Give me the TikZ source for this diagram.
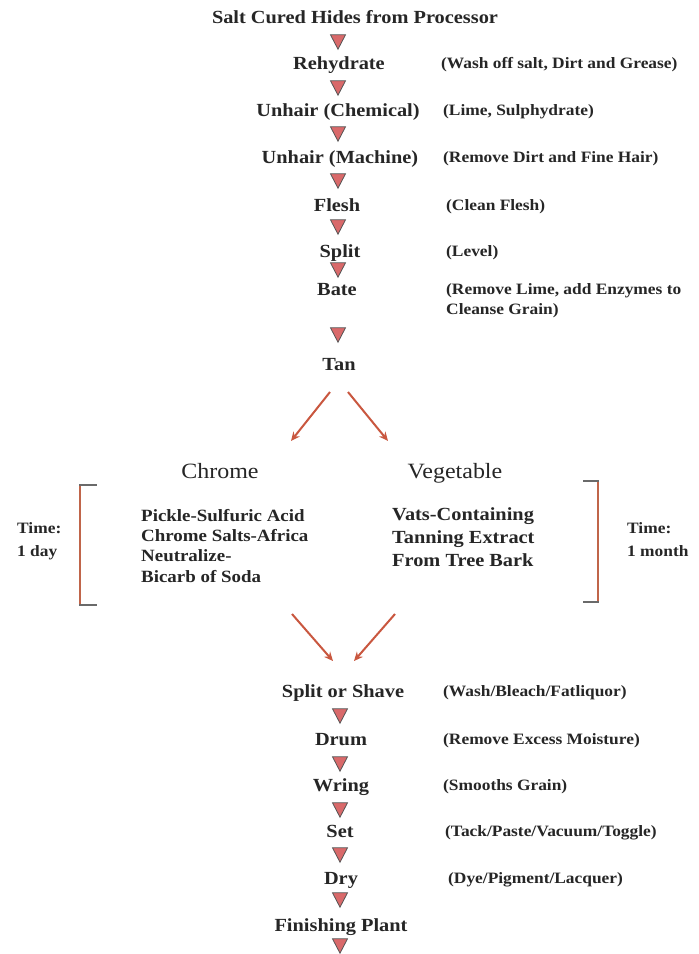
\documentclass[tikz,border=0pt]{standalone}
\usepackage{fontspec}
\setmainfont{Liberation Serif}[FakeStretch=1.1]
\usetikzlibrary{arrows.meta}
\definecolor{txt}{HTML}{262626}
\definecolor{trifill}{HTML}{D9696A}
\definecolor{tristroke}{HTML}{555555}
\definecolor{arrowc}{HTML}{C9573F}
\definecolor{brk}{HTML}{C0654A}
\definecolor{brktick}{HTML}{6A6A6A}
\tikzset{
  main/.style={anchor=base, text=txt, inner sep=0pt, font=\fontsize{18.5}{20}\selectfont\bfseries},
  note/.style={anchor=base west, text=txt, inner sep=0pt, font=\fontsize{15.8}{20}\selectfont\bfseries, align=left},
  head/.style={anchor=base, text=txt, inner sep=0pt, font=\fontsize{21.8}{24}\selectfont},
  chrtxt/.style={anchor=north west, text=txt, inner sep=0pt, font=\fontsize{17.2}{20.3}\selectfont\bfseries, align=left},
  vegtxt/.style={anchor=north west, text=txt, inner sep=0pt, font=\fontsize{18.5}{23}\selectfont\bfseries, align=left},
  timetxt/.style={anchor=north west, text=txt, inner sep=0pt, font=\fontsize{15.8}{23}\selectfont\bfseries, align=left},
  tri/.style={fill=trifill, draw=tristroke, line width=0.8pt, line join=miter},
  downtri/.pic={\path[tri] (-7.5,-7.2) -- (7.5,-7.2) -- (0,7.2) -- cycle;},
  arr/.style={draw=arrowc, line width=2pt, -{Stealth[length=9pt,width=8pt]}},
  brkline/.style={draw=brk, line width=2pt},
  brkt/.style={draw=brktick, line width=2pt}
}
\begin{document}
\begin{tikzpicture}[x=1pt,y=-1pt]
\useasboundingbox (0,0) rectangle (699,954);
\fill[white] (0,0) rectangle (699,954);

% main column
\node[main] (title) at (355,23) {Salt Cured Hides from Processor};
\pic at (338,42) {downtri};
\node[main] (rehyd) at (339,69) {Rehydrate};
\node[note] (n1) at (441,68) {(Wash off salt, Dirt and Grease)};
\pic at (338,88) {downtri};
\node[main] (unc) at (338,116) {Unhair (Chemical)};
\node[note] (n2) at (443,115) {(Lime, Sulphydrate)};
\pic at (338,134) {downtri};
\node[main] (unm) at (340,163) {Unhair (Machine)};
\node[note] (n3) at (443,162) {(Remove Dirt and Fine Hair)};
\pic at (338,181) {downtri};
\node[main] (flesh) at (337,211) {Flesh};
\node[note] (n4) at (446,210) {(Clean Flesh)};
\pic at (338,227) {downtri};
\node[main] (split) at (340,257) {Split};
\node[note] (n5) at (446,256) {(Level)};
\pic at (338,270) {downtri};
\node[main] (bate) at (337,295) {Bate};
\node[note, anchor=north west] (n6) at (446,283) {(Remove Lime, add Enzymes to\\Cleanse Grain)};
\pic at (338,335) {downtri};
\node[main] (tan) at (339,370) {Tan};

% branches
\coordinate (tanL) at (330,392);
\coordinate (tanR) at (348,392);
\coordinate (chrIn) at (291,441);
\coordinate (vegIn) at (388,441);
\draw[arr] (tanL) -- (chrIn);
\draw[arr] (tanR) -- (vegIn);

\node[head] (chrome) at (220,478) {Chrome};
\node[head] (veg) at (455,478) {Vegetable};

\node[chrtxt] (chrl) at (141,509) {Pickle-Sulfuric Acid\\Chrome Salts-Africa\\Neutralize-\\Bicarb of Soda};
\node[vegtxt] (vegl) at (392,507) {Vats-Containing\\Tanning Extract\\From Tree Bark};

\node[timetxt] (t1) at (17,522) {Time:\\1 day};
\node[timetxt] (t2) at (627,522) {Time:\\1 month};

% brackets
\draw[brkline] (80,485) -- (80,605);
\draw[brkt] (79,485) -- (97,485);
\draw[brkt] (79,605) -- (97,605);
\draw[brkline] (598,481) -- (598,602);
\draw[brkt] (583,481) -- (599,481);
\draw[brkt] (583,602) -- (599,602);

% converge
\coordinate (chrOut) at (292,614);
\coordinate (vegOut) at (395,614);
\coordinate (sosL) at (333,661);
\coordinate (sosR) at (354,661);
\draw[arr] (chrOut) -- (sosL);
\draw[arr] (vegOut) -- (sosR);

\node[main] (sos) at (343,697) {Split or Shave};
\node[note] (n7) at (443,696) {(Wash/Bleach/Fatliquor)};
\pic at (340,716) {downtri};
\node[main] (drum) at (341,745) {Drum};
\node[note] (n8) at (443,744) {(Remove Excess Moisture)};
\pic at (340,764) {downtri};
\node[main] (wring) at (341,791) {Wring};
\node[note] (n9) at (443,790) {(Smooths Grain)};
\pic at (340,810) {downtri};
\node[main] (set) at (340,837) {Set};
\node[note] (n10) at (445,836) {(Tack/Paste/Vacuum/Toggle)};
\pic at (340,855) {downtri};
\node[main] (dry) at (341,884) {Dry};
\node[note] (n11) at (448,883) {(Dye/Pigment/Lacquer)};
\pic at (340,900) {downtri};
\node[main] (fin) at (341,931) {Finishing Plant};
\pic at (340,946) {downtri};
\end{tikzpicture}
\end{document}
